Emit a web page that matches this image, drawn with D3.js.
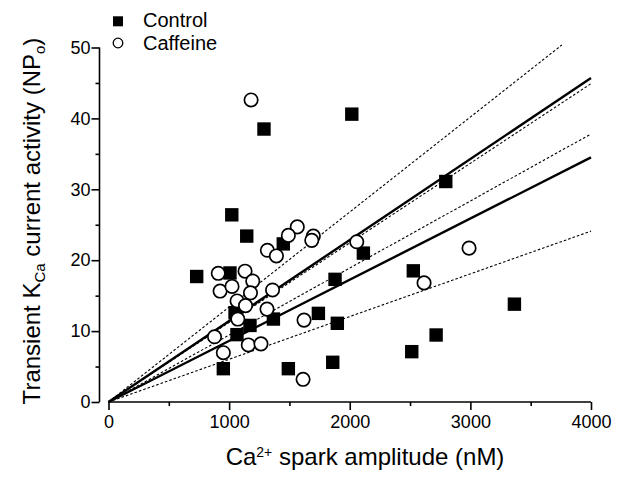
<!DOCTYPE html>
<html>
<head>
<meta charset="utf-8">
<script src="https://cdn.jsdelivr.net/npm/d3@7"></script>
<style>
  html, body { margin: 0; padding: 0; background: #fff; }
  svg { display: block; }
  text { font-family: "Liberation Sans", Arial, Helvetica, sans-serif; fill: #000; }
</style>
</head>
<body>
<svg id="chart" width="633" height="478"></svg>
<script>
// ---- Data ----
const controlAmp = [731, 1007, 1022, 1146, 1289, 2017, 1449, 2113, 1878, 2527, 2796, 1740, 1897, 2716, 2514, 1859, 1491, 952, 1367, 1173, 1049, 1065, 3365];
const controlNPo = [17.7, 18.2, 26.4, 23.4, 38.5, 40.6, 22.3, 21.0, 17.3, 18.5, 31.1, 12.5, 11.1, 9.45, 7.1, 5.6, 4.7, 4.7, 11.7, 10.8, 12.6, 9.5, 13.8];

const caffeineAmp = [1182, 1565, 1491, 1698, 1685, 1317, 1392, 2058, 2989, 2616, 910, 1132, 1196, 925, 1024, 1177, 1360, 1066, 1136, 1314, 1072, 1621, 879, 1159, 1264, 952, 1613];
const caffeineNPo = [42.6, 24.7, 23.5, 23.4, 22.8, 21.4, 20.6, 22.6, 21.7, 16.8, 18.15, 18.45, 17.05, 15.65, 16.3, 15.4, 15.8, 14.25, 13.6, 13.1, 11.7, 11.55, 9.2, 8.05, 8.2, 6.95, 3.2];

// Regression lines through origin and their confidence bounds: [endX, endY]
const fitEndX = [4000, 4000, 3758, 4000, 4000, 4000];
const fitEndY = [45.7, 44.9, 50.35, 37.8, 34.5, 24.1];
const fitKind = ["solid", "dotted", "dotted", "dotted", "solid", "dotted"];

const xTicks = [0, 1000, 2000, 3000, 4000];
const xMinorTicks = [500, 1500, 2500, 3500];
const yTicks = [0, 10, 20, 30, 40, 50];
const yMinorTicks = [5, 15, 25, 35, 45];

const legendLabels = ["Control", "Caffeine"];

// ---- Drawing ----
const svg = d3.select("#chart");
svg.append("rect").attr("width", 633).attr("height", 478).attr("fill", "#fff");

const x = d3.scaleLinear().domain([0, 4000]).range([108.5, 591]);
const y = d3.scaleLinear().domain([0, 50]).range([402, 47.5]);
const yAxisX = 99.5;

// Fit lines
const line = d3.line().x(d => x(d[0])).y(d => y(d[1]));
fitEndX.forEach((ex, i) => {
  svg.append("path")
    .attr("d", line([[0, 0], [ex, fitEndY[i]]]))
    .attr("fill", "none")
    .attr("stroke", "#000")
    .attr("stroke-width", fitKind[i] === "solid" ? 2.4 : 1.1)
    .attr("stroke-dasharray", fitKind[i] === "solid" ? null : "2.6,2");
});

// X axis
const xAxis = d3.axisBottom(x).tickValues(xTicks).tickSize(8).tickPadding(5).tickFormat(d3.format("d"));
const gx = svg.append("g").attr("transform", `translate(0,${y(0)})`).call(xAxis);
gx.select(".domain").attr("d", `M${x(0)},0H${x(4000)}`);
const gxm = svg.append("g").attr("transform", `translate(0,${y(0)})`)
  .call(d3.axisBottom(x).tickValues(xMinorTicks).tickSize(4).tickFormat(""));
gxm.select(".domain").remove();

// Y axis
const yAxis = d3.axisLeft(y).tickValues(yTicks).tickSize(8).tickPadding(1).tickFormat(d3.format("d"));
const gy = svg.append("g").attr("transform", `translate(${yAxisX},0)`).call(yAxis);
gy.select(".domain").attr("d", `M0,${y(50)}V${y(0)}`);
const gym = svg.append("g").attr("transform", `translate(${yAxisX},0)`)
  .call(d3.axisLeft(y).tickValues(yMinorTicks).tickSize(4).tickFormat(""));
gym.select(".domain").remove();

svg.selectAll(".domain, .tick line").attr("stroke", "#000").attr("stroke-width", 1.6);
svg.selectAll(".tick text")
  .style("font-family", '"Liberation Sans", Arial, sans-serif')
  .style("font-size", "18px")
  .attr("fill", "#000");
gx.selectAll(".tick text").attr("dy", "0.71em");

// Markers: control squares
const sq = 13.4;
svg.append("g").selectAll("rect").data(controlAmp).join("rect")
  .attr("x", (d, i) => x(d) - sq / 2)
  .attr("y", (d, i) => y(controlNPo[i]) - sq / 2)
  .attr("width", sq).attr("height", sq)
  .attr("fill", "#000");

// Markers: caffeine open circles
svg.append("g").selectAll("circle").data(caffeineAmp).join("circle")
  .attr("cx", d => x(d))
  .attr("cy", (d, i) => y(caffeineNPo[i]))
  .attr("r", 6.7)
  .attr("fill", "#fff")
  .attr("stroke", "#000")
  .attr("stroke-width", 1.7);

// Legend
svg.append("rect").attr("x", 113).attr("y", 16.3).attr("width", 10).attr("height", 10).attr("fill", "#000");
svg.append("circle").attr("cx", 118).attr("cy", 43).attr("r", 4.8)
  .attr("fill", "#fff").attr("stroke", "#000").attr("stroke-width", 1.3);
svg.append("text").attr("x", 143).attr("y", 27).style("font-size", "20px").text(legendLabels[0]);
svg.append("text").attr("x", 143).attr("y", 49.5).style("font-size", "20px").text(legendLabels[1]);

// X title
const xt = svg.append("text").attr("x", 365).attr("y", 465)
  .attr("text-anchor", "middle").style("font-size", "24px");
xt.append("tspan").text("Ca");
xt.append("tspan").attr("dy", -8).style("font-size", "14px").text("2+");
xt.append("tspan").attr("dy", 8).text(" spark amplitude (nM)");

// Y title
const yt = svg.append("text")
  .attr("transform", "translate(40,221) rotate(-90)")
  .attr("text-anchor", "middle").style("font-size", "24px");
yt.append("tspan").text("Transient K");
yt.append("tspan").attr("dy", 5).style("font-size", "15px").text("Ca");
yt.append("tspan").attr("dy", -5).text(" current activity (NP");
yt.append("tspan").attr("dy", 5).style("font-size", "15px").text("o");
yt.append("tspan").attr("dy", -5).text(")");
</script>
</body>
</html>
